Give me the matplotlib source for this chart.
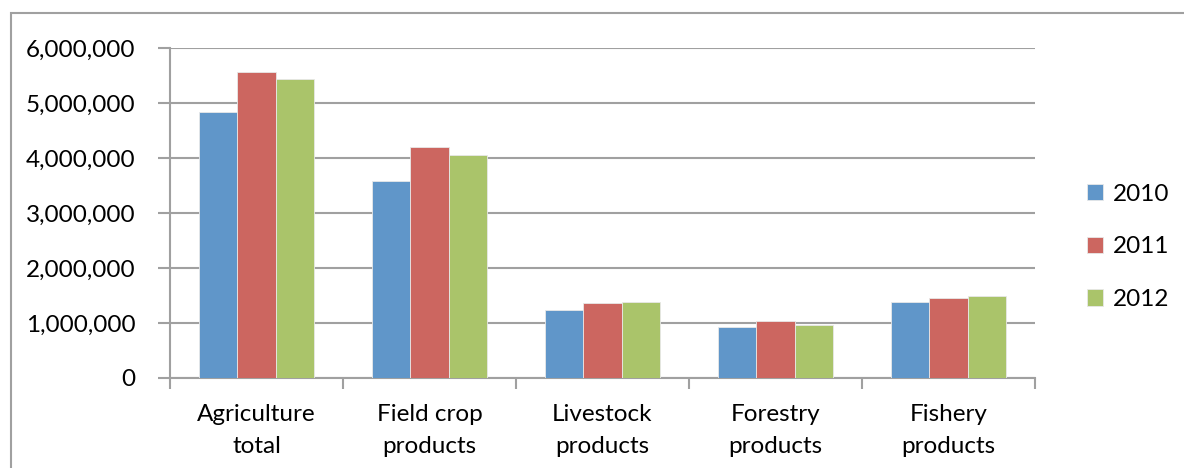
import numpy as np
import matplotlib
matplotlib.use("Agg")
import matplotlib.pyplot as plt
from matplotlib.ticker import FuncFormatter
from matplotlib.patches import Rectangle

# data
categories = ["Agriculture\ntotal", "Field crop\nproducts", "Livestock\nproducts",
              "Forestry\nproducts", "Fishery\nproducts"]
years = ["2010", "2011", "2012"]
v2010 = [4830000, 3580000, 1230000, 930000, 1380000]
v2011 = [5570000, 4200000, 1370000, 1030000, 1460000]
v2012 = [5430000, 4050000, 1380000, 970000, 1500000]
colors = ["#6096C9", "#CC6660", "#AAC46A"]

plt.rcParams['font.family'] = ['Lato', 'DejaVu Sans']

fig = plt.figure(figsize=(11.84, 4.68), dpi=100)
ax = fig.add_axes([170/1184, 1 - 378/468, (1035-170)/1184, (378-48)/468])

# outer chart frame (cut off at right/bottom)
fig.patches.append(Rectangle((11/1184, -0.1), 1.2, 1 - 13/468 + 0.1,
                             transform=fig.transFigure, fill=False,
                             edgecolor="#A0A0A0", linewidth=1.5))

x = np.arange(len(categories))
w = 0.22
for i, (vals, c, yr) in enumerate(zip([v2010, v2011, v2012], colors, years)):
    ax.bar(x + (i - 1) * w, vals, width=w, color=c, edgecolor="#E8E8E8",
           linewidth=0.6, label=yr, zorder=3)

ax.set_ylim(0, 6000000)
ax.set_yticks(np.arange(0, 6000001, 1000000))
ax.yaxis.set_major_formatter(FuncFormatter(lambda v, p: f"{int(v):,}"))
ax.grid(axis="y", color="#A0A0A0", linewidth=1.5, zorder=0)
ax.set_xlim(-0.5, len(categories) - 0.5)
ax.set_xticks(np.arange(-0.5, len(categories)))
ax.set_xticklabels([])
ax.tick_params(axis="x", which="major", length=8, width=1.5, color="#A0A0A0")
ax.tick_params(axis="y", length=9, width=1.5, color="#A0A0A0", labelsize=17.5, pad=16)

# category labels below the axis
for xi, cat in zip(x, categories):
    ax.annotate(cat, xy=(xi, 0), xycoords=("data", "axes fraction"),
                xytext=(0, -19), textcoords="offset points",
                ha="center", va="top", fontsize=17.5, linespacing=1.62)

for s in ["top", "right"]:
    ax.spines[s].set_visible(False)
for s in ["left", "bottom"]:
    ax.spines[s].set_color("#A0A0A0")
    ax.spines[s].set_linewidth(1.5)

ax.legend(loc="center left", bbox_to_anchor=(1.035, 0.397), frameon=False,
          fontsize=17.5, handlelength=0.65, handleheight=0.65,
          handletextpad=0.4, labelspacing=1.3)

fig.savefig("out.png", dpi=100)
